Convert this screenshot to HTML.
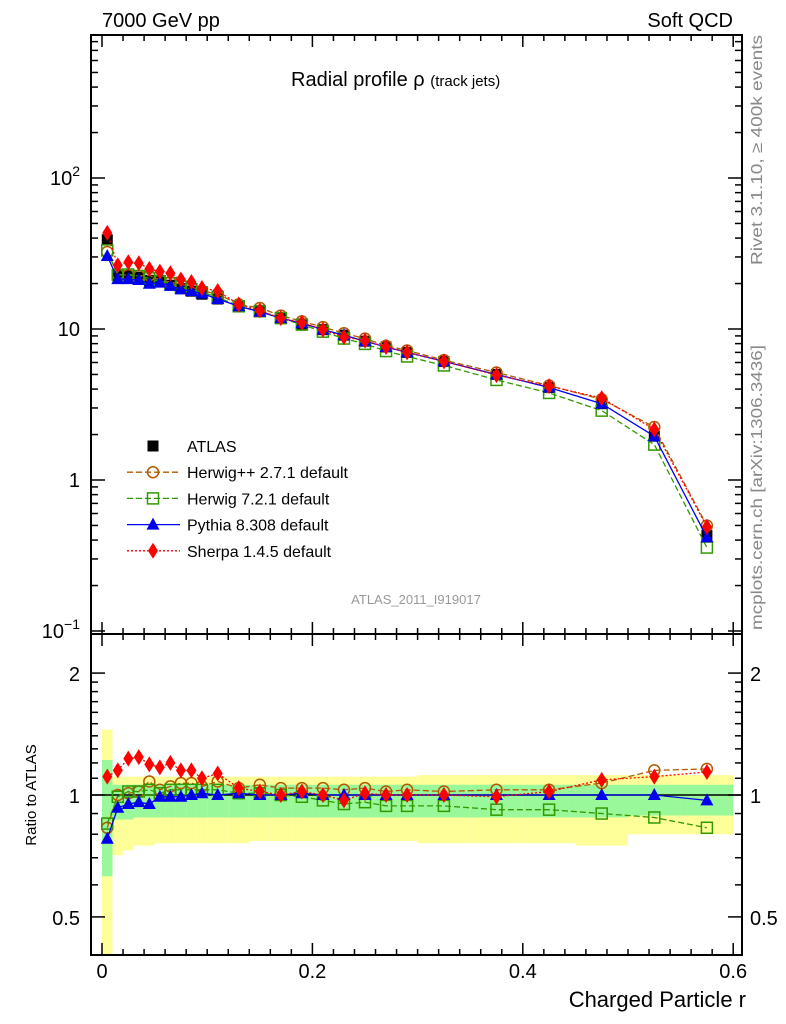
<!DOCTYPE html>
<html><head><meta charset="utf-8"><style>
html,body{margin:0;padding:0;background:#fff;}
svg{display:block;font-family:"Liberation Sans",sans-serif;}
</style></head><body>
<svg id="chart" width="786" height="1024" xmlns="http://www.w3.org/2000/svg">
<g id="bands"></g>
<g id="axes"></g>
<g id="series"></g>
<text x="102" y="27" font-size="20">7000 GeV pp</text>
<text x="733" y="27" font-size="20" text-anchor="end">Soft QCD</text>
<text x="291" y="86" font-size="20">Radial profile ρ <tspan font-size="15">(track jets)</tspan></text>
<text x="416" y="604" font-size="13" fill="#999" text-anchor="middle">ATLAS_2011_I919017</text>
<text transform="translate(762,265) rotate(-90)" font-size="16" fill="#888" textLength="230" lengthAdjust="spacingAndGlyphs">Rivet 3.1.10, ≥ 400k events</text>
<text transform="translate(762,630) rotate(-90)" font-size="16" fill="#888" textLength="285" lengthAdjust="spacingAndGlyphs">mcplots.cern.ch [arXiv:1306.3436]</text>
<text transform="translate(36,795) rotate(-90)" font-size="15" text-anchor="middle">Ratio to ATLAS</text>
<text x="746" y="1007" font-size="22" text-anchor="end">Charged Particle r</text>
<g id="legend"></g>
</svg>
<script>
const rVals=[0.005,0.015,0.025,0.035,0.045,0.055,0.065,0.075,0.085,0.095,0.11,0.13,0.15,0.17,0.19,0.21,0.23,0.25,0.27,0.29,0.325,0.375,0.425,0.475,0.525,0.575];
const binLo=[0,0.01,0.02,0.03,0.04,0.05,0.06,0.07,0.08,0.09,0.1,0.12,0.14,0.16,0.18,0.2,0.22,0.24,0.26,0.28,0.3,0.35,0.4,0.45,0.5,0.55];
const binHi=[0.01,0.02,0.03,0.04,0.05,0.06,0.07,0.08,0.09,0.1,0.12,0.14,0.16,0.18,0.2,0.22,0.24,0.26,0.28,0.3,0.35,0.4,0.45,0.5,0.55,0.6];
const atlas=[39,23,22.5,22,21,20.5,19.5,18.5,17.8,17,15.8,14,13,11.8,10.8,9.9,9.1,8.3,7.6,7.0,6.1,5.0,4.1,3.2,1.95,0.43];
const ratioHerwigPP=[0.83,1.0,1.01,1.02,1.08,1.03,1.05,1.07,1.07,1.05,1.08,1.04,1.06,1.04,1.04,1.04,1.03,1.04,1.02,1.03,1.02,1.03,1.03,1.07,1.15,1.16];
const ratioHerwig7=[0.85,0.99,1.02,1.02,1.03,1.01,1.03,1.03,1.03,1.03,1.03,1.01,1.01,1.0,0.99,0.97,0.95,0.96,0.94,0.94,0.94,0.92,0.92,0.9,0.88,0.83];
const ratioPythia=[0.78,0.93,0.95,0.96,0.95,0.99,0.99,0.99,1.0,1.01,1.0,1.01,1.0,1.0,1.01,1.0,1.0,1.0,1.0,1.0,1.0,1.0,1.0,1.0,1.0,0.97];
const ratioSherpa=[1.11,1.15,1.23,1.24,1.19,1.17,1.2,1.15,1.15,1.1,1.13,1.04,1.02,1.0,1.02,1.0,0.97,1.01,1.0,1.0,1.0,0.99,1.02,1.09,1.11,1.14];
const yelUp=[1.45,1.11,1.11,1.11,1.11,1.11,1.11,1.11,1.11,1.11,1.11,1.11,1.11,1.11,1.11,1.11,1.11,1.11,1.11,1.11,1.12,1.12,1.12,1.12,1.12,1.12];
const yelDn=[0.35,0.71,0.73,0.75,0.75,0.76,0.76,0.76,0.76,0.76,0.76,0.76,0.77,0.77,0.77,0.77,0.77,0.77,0.77,0.77,0.76,0.76,0.76,0.75,0.8,0.8];
const grnUp=[1.22,1.06,1.06,1.06,1.06,1.06,1.06,1.06,1.06,1.06,1.06,1.06,1.06,1.06,1.06,1.06,1.06,1.06,1.06,1.06,1.06,1.06,1.06,1.06,1.06,1.06];
const grnDn=[0.63,0.87,0.87,0.88,0.88,0.88,0.88,0.88,0.88,0.88,0.88,0.88,0.88,0.88,0.88,0.88,0.88,0.88,0.88,0.88,0.88,0.88,0.88,0.88,0.89,0.89];
const xTicks=[0,0.2,0.4,0.6];
const mainTicks=[["10","2",100],["10","",10],["1","",1],["10","−1",0.1]];
const ratioTicks=[2,1,0.5];

const NS="http://www.w3.org/2000/svg";
const X0=91,X1=742,MT=35,MB=634,RB=955;
const xs=r=>102+r*1052;
const ym=v=>480-151*Math.log10(v);
const yr=v=>795-405*Math.log10(v);
function mk(tag,attrs,parent){const e=document.createElementNS(NS,tag);for(const k in attrs)e.setAttribute(k,attrs[k]);parent.appendChild(e);return e;}
const bands=document.getElementById('bands'),axes=document.getElementById('axes'),series=document.getElementById('series'),legend=document.getElementById('legend');
const clipR=v=>Math.min(Math.max(yr(v),MB),RB);
for(let i=0;i<rVals.length;i++){
  const y=mk('rect',{x:xs(binLo[i]),y:clipR(yelUp[i]),width:xs(binHi[i])-xs(binLo[i]),height:clipR(yelDn[i])-clipR(yelUp[i]),fill:'#ffff99'},bands);
  
  
}
for(let i=0;i<rVals.length;i++){
  const g=mk('rect',{x:xs(binLo[i]),y:clipR(grnUp[i]),width:xs(binHi[i])-xs(binLo[i]),height:clipR(grnDn[i])-clipR(grnUp[i]),fill:'#99f899'},bands);
  
  
}
for(const [t,b] of [[MT,MB],[MB,RB]]){
  const f=mk('rect',{x:X0,y:t,width:X1-X0,height:b-t,fill:'none',stroke:'#000','stroke-width':2},axes);
  
  
}
const one=mk('line',{x1:X0,x2:X1,y1:yr(1),y2:yr(1),stroke:'#000','stroke-width':1.5},axes);


for(let r=0;r<=0.62;r+=0.02){
  const major=Math.abs(r/0.2-Math.round(r/0.2))<1e-6;const L=major?12:6;
  for(const [yb,dir] of [[MB,-1],[MT,1],[RB,-1],[MB,1]]){
    mk('line',{x1:xs(r),x2:xs(r),y1:yb,y2:yb+dir*L,stroke:'#000','stroke-width':1.5},axes);
  }
}
xTicks.forEach(t=>{const e=mk('text',{x:xs(t),y:978,'font-size':20,'text-anchor':'middle'},axes);e.textContent=t===0?'0':String(t);

});
for(let d=-1;d<=2;d++){for(let m=1;m<=9;m++){const v=m*Math.pow(10,d);const y=ym(v);if(y<MT||y>MB)continue;const L=m==1?14:7;
mk('line',{x1:X0,x2:X0+L,y1:y,y2:y,stroke:'#000','stroke-width':1.5},axes);mk('line',{x1:X1,x2:X1-L,y1:y,y2:y,stroke:'#000','stroke-width':1.5},axes);}}
mainTicks.forEach(t=>{const e=mk('text',{x:80,y:ym(t[2])+7,'font-size':20,'text-anchor':'end'},axes);e.textContent=t[0];
if(t[1]){const s=document.createElementNS(NS,'tspan');s.setAttribute('dy','-9');s.setAttribute('font-size','14');s.textContent=t[1];e.appendChild(s);}

});
[0.4,0.5,0.6,0.7,0.8,0.9,1,1.1,1.2,1.3,1.4,1.5,1.6,1.7,1.8,1.9,2,2.5].forEach(v=>{const y=yr(v);if(y<MB||y>RB)return;const L=(v==0.5||v==1||v==2)?14:7;
mk('line',{x1:X0,x2:X0+L,y1:y,y2:y,stroke:'#000','stroke-width':1.5},axes);mk('line',{x1:X1,x2:X1-L,y1:y,y2:y,stroke:'#000','stroke-width':1.5},axes);});
ratioTicks.forEach(v=>{for(const [x,a] of [[80,'end'],[750,'start']]){const e=mk('text',{x:x,y:yr(v)+8,'font-size':20,'text-anchor':a},axes);e.textContent=String(v);

}});
function marker(type,x,y,col,parent){
  if(type=='sq')return mk('rect',{x:x-5.5,y:y-5.5,width:11,height:11,fill:'#000'},parent);
  if(type=='circ')return mk('circle',{cx:x,cy:y,r:5.5,fill:'none',stroke:col,'stroke-width':1.5},parent);
  if(type=='osq')return mk('rect',{x:x-5.5,y:y-5.5,width:11,height:11,fill:'none',stroke:col,'stroke-width':1.5},parent);
  if(type=='tri')return mk('polygon',{points:`${x},${y-7} ${x-6.5},${y+5} ${x+6.5},${y+5}`,fill:col},parent);
  if(type=='dia')return mk('polygon',{points:`${x},${y-8} ${x-5},${y} ${x},${y+8} ${x+5},${y}`,fill:col},parent);
}
const mcs=[
 {name:'herwigpp',ratio:ratioHerwigPP,col:'#b35900',m:'circ',dash:'6,3',label:'Herwig++ 2.7.1 default'},
 {name:'herwig7',ratio:ratioHerwig7,col:'#339900',m:'osq',dash:'6,3',label:'Herwig 7.2.1 default'},
 {name:'pythia',ratio:ratioPythia,col:'#0000ee',m:'tri',dash:'',label:'Pythia 8.308 default'},
 {name:'sherpa',ratio:ratioSherpa,col:'#ff0000',m:'dia',dash:'2,2',label:'Sherpa 1.4.5 default'}];
const ga=mk('g',{},series);
atlas.forEach((v,i)=>{const p=marker('sq',xs(rVals[i]),ym(v),'#000',ga);

});
mcs.forEach(s=>{
  const g=mk('g',{},series);
  const main=atlas.map((a,i)=>a*s.ratio[i]);
  const pl=mk('polyline',{points:main.map((v,i)=>xs(rVals[i])+','+ym(v)).join(' '),fill:'none',stroke:s.col,'stroke-width':1.3,'stroke-dasharray':s.dash},g);
  
  
  const pr=mk('polyline',{points:s.ratio.map((v,i)=>xs(rVals[i])+','+yr(v)).join(' '),fill:'none',stroke:s.col,'stroke-width':1.3,'stroke-dasharray':s.dash},g);
  
  
  main.forEach((v,i)=>{const p=marker(s.m,xs(rVals[i]),ym(v),s.col,g);
  
  });
  s.ratio.forEach((v,i)=>{const p=marker(s.m,xs(rVals[i]),yr(v),s.col,g);
  
  });
});
const ent=[{m:'sq',col:'#000',dash:null,label:'ATLAS'}].concat(mcs);
ent.forEach((s,i)=>{const y=446+i*26.2;const g=mk('g',{},legend);


if(s.dash!==null&&s.dash!==undefined)mk('line',{x1:127,x2:180,y1:y,y2:y,stroke:s.col,'stroke-width':1.3,'stroke-dasharray':s.dash},g);
marker(s.m,153,y,s.col,g);
const t=mk('text',{x:187,y:y+6,'font-size':16},g);t.textContent=s.label;});
</script>
</body></html>
